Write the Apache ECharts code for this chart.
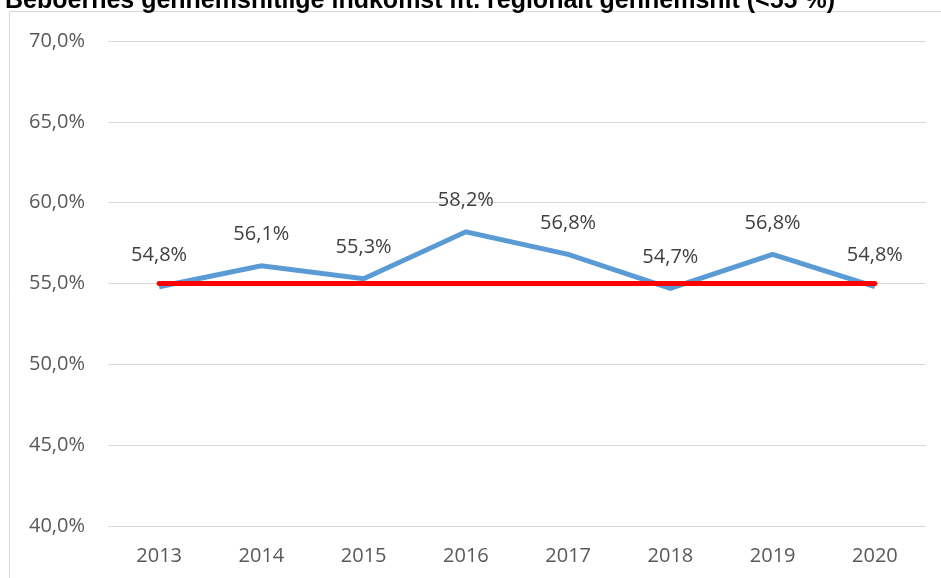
<!DOCTYPE html>
<html>
<head>
<meta charset="utf-8">
<script src="https://cdn.jsdelivr.net/npm/echarts@6/dist/echarts.min.js"></script>
<style>
  html, body { margin: 0; padding: 0; background: #fff; }
  #chart { width: 941px; height: 578px; }
</style>
</head>
<body>
<div id="chart"></div>
<script>
const years = ['2013', '2014', '2015', '2016', '2017', '2018', '2019', '2020']
const incomeShare = [54.8, 56.1, 55.3, 58.2, 56.8, 54.7, 56.8, 54.8]
const threshold = [55, 55, 55, 55, 55, 55, 55, 55]

const fmt = (v, d) => v.toFixed(d).replace('.', ',') + '%'

const chart = echarts.init(document.getElementById('chart'))

const option = {
  animation: false,
  title: {
    text: 'Beboernes gennemsnitlige indkomst ift. regionalt gennemsnit (<55 %)',
    left: 0,
    top: -16,
    textStyle: {
      fontFamily: 'Liberation Sans, Arial',
      fontWeight: 'bold',
      fontSize: 25,
      color: '#000'
    }
  },
  graphic: [
    {
      type: 'polyline',
      shape: { points: [[9.5, 578], [9.5, 11.5], [941, 11.5]] },
      style: { stroke: '#d9d9d9', lineWidth: 1, fill: null },
      z: -1
    }
  ],
  grid: {
    left: 108,
    right: 15,
    top: 41,
    bottom: 52
  },
  xAxis: {
    type: 'category',
    data: years,
    boundaryGap: true,
    axisLine: { show: false },
    axisTick: { show: false },
    axisLabel: {
      margin: 20,
      fontFamily: 'Open Sans, DejaVu Sans',
      fontSize: 20,
      color: '#595959'
    }
  },
  yAxis: {
    type: 'value',
    min: 40,
    max: 70,
    interval: 5,
    axisLine: { show: false },
    axisTick: { show: false },
    axisLabel: {
      margin: 23,
      fontFamily: 'Open Sans, DejaVu Sans',
      fontSize: 20,
      color: '#595959',
      formatter: v => fmt(v, 1)
    },
    splitLine: { lineStyle: { color: '#d9d9d9', width: 1 } }
  },
  series: [
    {
      name: 'Andel',
      type: 'line',
      data: incomeShare,
      symbol: 'circle',
      symbolSize: 2,
      showAllSymbol: true,
      itemStyle: { color: 'rgba(0,0,0,0)', borderWidth: 0 },
      lineStyle: { color: '#5b9bd5', width: 5, join: 'miter' },
      label: {
        show: true,
        position: 'top',
        distance: 20,
        fontFamily: 'Open Sans, DejaVu Sans',
        fontSize: 20,
        color: '#404040',
        formatter: p => fmt(p.value, 1)
      },
      z: 2
    },
    {
      name: 'Grænse',
      type: 'line',
      data: threshold,
      symbol: 'none',
      lineStyle: { color: '#ff0000', width: 5, cap: 'round' },
      z: 3
    }
  ]
}

chart.setOption(option)
window.addEventListener('resize', () => chart.resize())
</script>
</body>
</html>
